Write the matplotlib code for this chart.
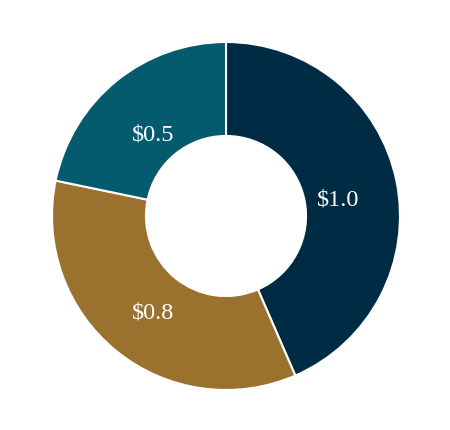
import numpy as np
import matplotlib
matplotlib.use("Agg")
from matplotlib import pyplot as plt

values = [1.0, 0.8, 0.5]
labels = ["$1.0", "$0.8", "$0.5"]
colors = ["#002b45", "#9b712e", "#055b6e"]

plt.rcParams["font.family"] = ["Liberation Serif", "DejaVu Serif"]

fig = plt.figure(figsize=(4.5, 4.3), dpi=100)
# axes box sized so the ring sits where it does in the reference
ax = fig.add_axes([52 / 450, 40 / 430, 348 / 450, 348 / 430])

wedges, texts = ax.pie(
    values,
    colors=colors,
    startangle=90,
    counterclock=False,
    radius=1.0,
    wedgeprops=dict(width=0.54, edgecolor="white", linewidth=1.5),
)

# value labels inside the ring
for w, lab in zip(wedges, labels):
    ang = np.deg2rad((w.theta1 + w.theta2) / 2)
    r = 0.66
    ax.text(r * np.cos(ang), r * np.sin(ang) - 0.045, lab, ha="center", va="center",
            color="white", fontsize=17.5)

ax.set_xlim(-1, 1)
ax.set_ylim(-1, 1)
ax.set_aspect("equal")
ax.axis("off")

fig.savefig("out.png", dpi=100)
